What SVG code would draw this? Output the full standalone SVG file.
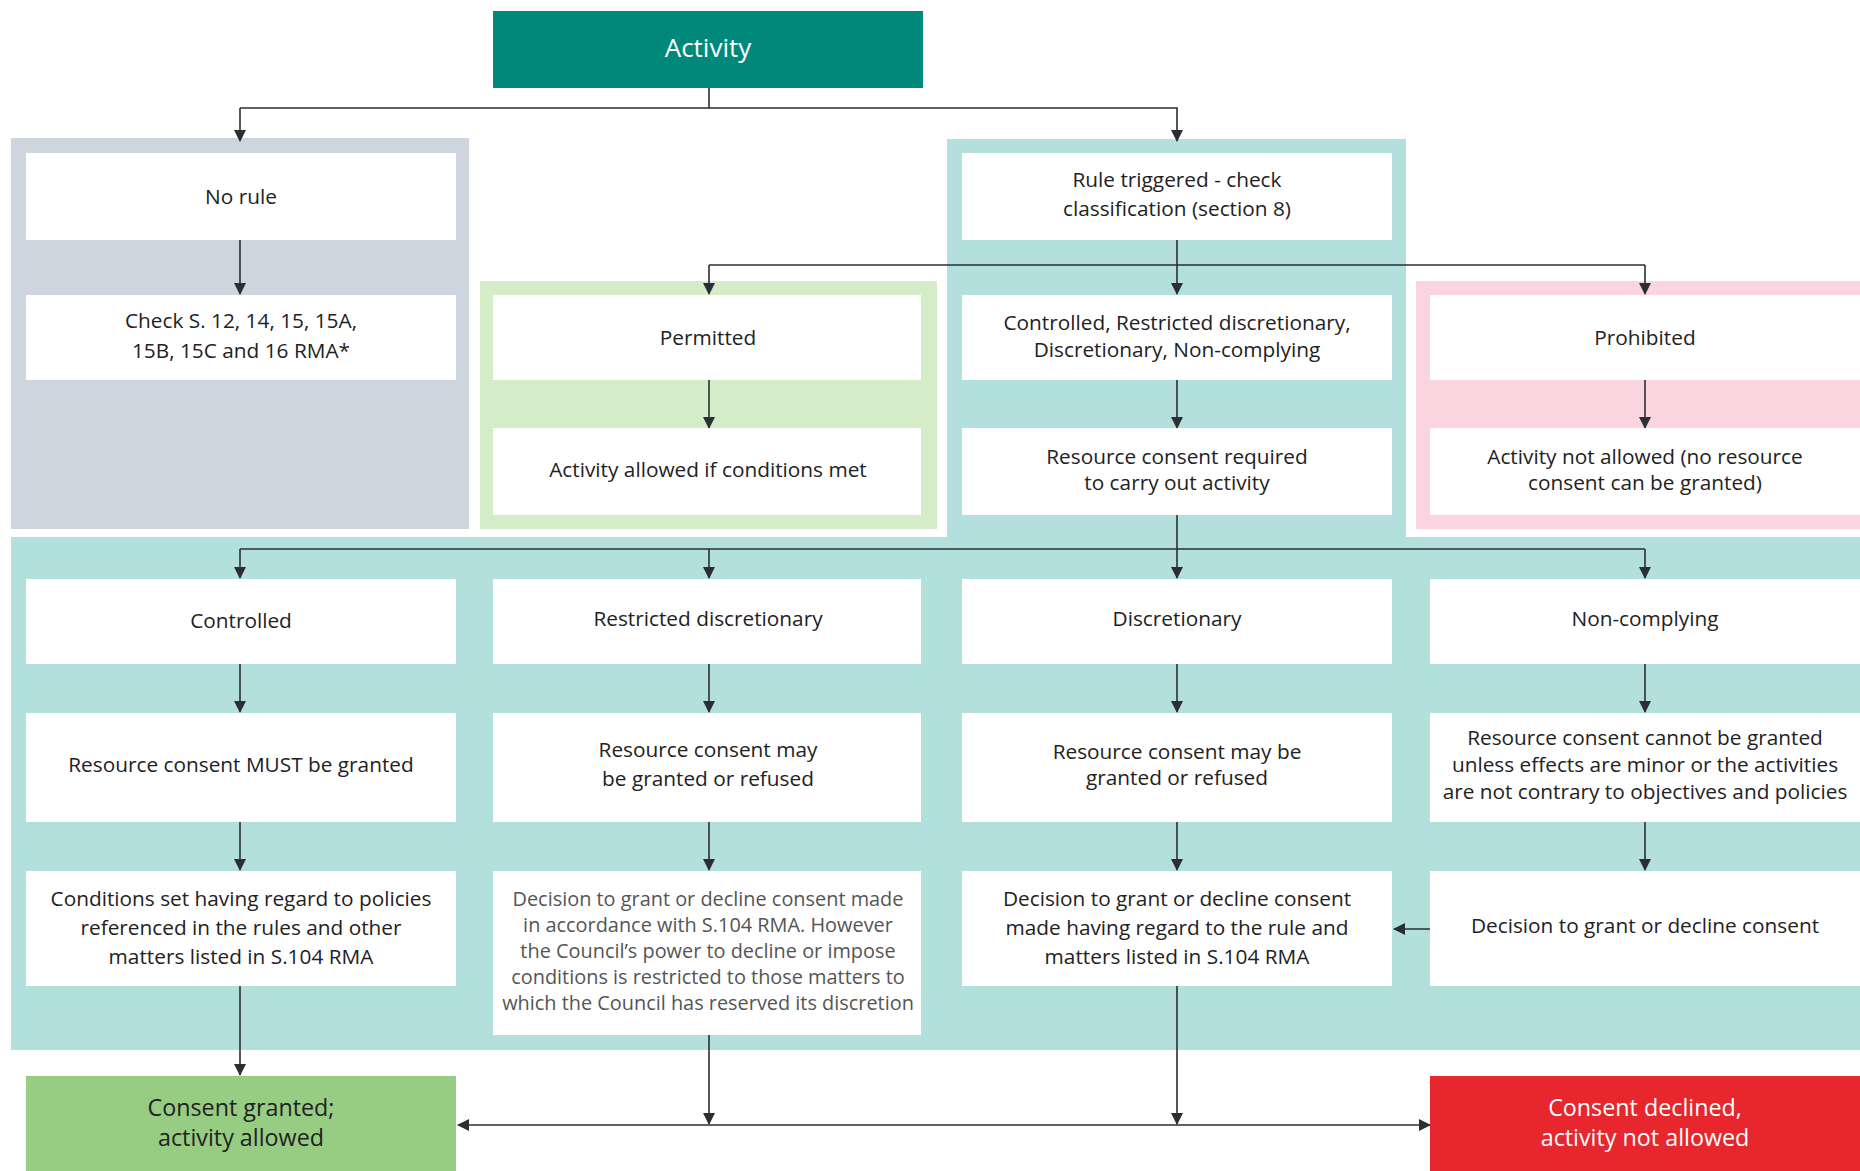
<svg xmlns="http://www.w3.org/2000/svg" width="1860" height="1171" viewBox="0 0 1860 1171">
<defs>
<marker id="ah" viewBox="0 0 12 12" refX="11" refY="6" markerWidth="12" markerHeight="12" markerUnits="userSpaceOnUse" orient="auto">
<path d="M0,0 L12,6 L0,12 z" fill="#2b2f33"/>
</marker>
<style>
.box{fill:#ffffff}
.t{font-family:"Open Sans","Noto Sans",sans-serif;font-size:20.8px;fill:#222;text-anchor:middle}
.g{fill:#555;font-size:19.9px}
.w{fill:#ffffff}
.big{font-size:23.3px}
.act{font-size:26px}
.c{fill:none;stroke:#2b2f33;stroke-width:1.6}
.ca{fill:none;stroke:#2b2f33;stroke-width:1.6;marker-end:url(#ah)}
</style>
</defs>
<rect width="1860" height="1171" fill="#ffffff"/>
<g id="panels">
<rect x="11" y="138" width="458" height="391" fill="#cdd6de"/>
<rect x="480" y="281" width="457" height="248" fill="#d5ecc9"/>
<rect x="947" y="139" width="459" height="400" fill="#b3e0dd"/>
<rect x="1416" y="281" width="444" height="248" fill="#fad4df"/>
<rect x="11" y="537" width="1849" height="513" fill="#b3e0dd"/>
</g>
<g id="connectors">
<path class="c" d="M709,88 V108 H240"/>
<path class="ca" d="M240,108 V141"/>
<path class="ca" d="M709,108 H1177 V141"/>
<path class="ca" d="M240,240 V294"/>
<path class="ca" d="M1177,240 V294"/>
<path class="c" d="M709,265 H1645"/>
<path class="ca" d="M709,265 V294"/>
<path class="ca" d="M1645,265 V294"/>
<path class="ca" d="M709,380 V428"/>
<path class="ca" d="M1177,380 V428"/>
<path class="ca" d="M1645,380 V428"/>
<path class="c" d="M1177,515 V549"/>
<path class="c" d="M240,549 H1645"/>
<path class="ca" d="M240,549 V578"/>
<path class="ca" d="M709,549 V578"/>
<path class="ca" d="M1177,549 V578"/>
<path class="ca" d="M1645,549 V578"/>
<path class="ca" d="M240,664 V712"/>
<path class="ca" d="M709,664 V712"/>
<path class="ca" d="M1177,664 V712"/>
<path class="ca" d="M1645,664 V712"/>
<path class="ca" d="M240,822 V870"/>
<path class="ca" d="M709,822 V870"/>
<path class="ca" d="M1177,822 V870"/>
<path class="ca" d="M1645,822 V870"/>
<path class="ca" d="M1430,929 H1394"/>
<path class="ca" d="M240,986 V1075"/>
<path class="ca" d="M709,1035 V1124"/>
<path class="ca" d="M1177,986 V1124"/>
<path class="ca" d="M940,1125 H458"/>
<path class="ca" d="M940,1125 H1430"/>
</g>
<g id="activity">
<rect x="493" y="11" width="430" height="77" fill="#00897b"/>
<text class="t w act" x="708" y="57">Activity</text>
</g>
<g id="no-rule">
<rect class="box" x="26" y="153" width="430" height="87"/>
<text class="t" x="241" y="204">No rule</text>
</g>
<g id="check">
<rect class="box" x="26" y="295" width="430" height="85"/>
<text class="t" x="241" y="328">Check S. 12, 14, 15, 15A,</text>
<text class="t" x="241" y="358">15B, 15C and 16 RMA*</text>
</g>
<g id="rule-triggered">
<rect class="box" x="962" y="153" width="430" height="87"/>
<text class="t" x="1177" y="187">Rule triggered - check</text>
<text class="t" x="1177" y="216">classification (section 8)</text>
</g>
<g id="permitted">
<rect class="box" x="493" y="295" width="428" height="85"/>
<text class="t" x="708" y="345">Permitted</text>
</g>
<g id="activity-allowed">
<rect class="box" x="493" y="428" width="428" height="87"/>
<text class="t" x="708" y="477">Activity allowed if conditions met</text>
</g>
<g id="classes">
<rect class="box" x="962" y="295" width="430" height="85"/>
<text class="t" x="1177" y="330">Controlled, Restricted discretionary,</text>
<text class="t" x="1177" y="357">Discretionary, Non-complying</text>
</g>
<g id="consent-required">
<rect class="box" x="962" y="428" width="430" height="87"/>
<text class="t" x="1177" y="464">Resource consent required</text>
<text class="t" x="1177" y="490">to carry out activity</text>
</g>
<g id="prohibited">
<rect class="box" x="1430" y="295" width="430" height="85"/>
<text class="t" x="1645" y="345">Prohibited</text>
</g>
<g id="not-allowed">
<rect class="box" x="1430" y="428" width="430" height="87"/>
<text class="t" x="1645" y="464">Activity not allowed (no resource</text>
<text class="t" x="1645" y="490">consent can be granted)</text>
</g>
<g id="controlled">
<rect class="box" x="26" y="579" width="430" height="85"/>
<text class="t" x="241" y="628">Controlled</text>
</g>
<g id="restricted">
<rect class="box" x="493" y="579" width="428" height="85"/>
<text class="t" x="708" y="626">Restricted discretionary</text>
</g>
<g id="discretionary">
<rect class="box" x="962" y="579" width="430" height="85"/>
<text class="t" x="1177" y="626">Discretionary</text>
</g>
<g id="non-complying">
<rect class="box" x="1430" y="579" width="430" height="85"/>
<text class="t" x="1645" y="626">Non-complying</text>
</g>
<g id="must-grant">
<rect class="box" x="26" y="713" width="430" height="109"/>
<text class="t" x="241" y="772">Resource consent MUST be granted</text>
</g>
<g id="may-grant-rd">
<rect class="box" x="493" y="713" width="428" height="109"/>
<text class="t" x="708" y="757">Resource consent may</text>
<text class="t" x="708" y="786">be granted or refused</text>
</g>
<g id="may-grant-d">
<rect class="box" x="962" y="713" width="430" height="109"/>
<text class="t" x="1177" y="759">Resource consent may be</text>
<text class="t" x="1177" y="785">granted or refused</text>
</g>
<g id="cannot-grant">
<rect class="box" x="1430" y="713" width="430" height="109"/>
<text class="t" x="1645" y="745">Resource consent cannot be granted</text>
<text class="t" x="1645" y="772">unless effects are minor or the activities</text>
<text class="t" x="1645" y="799">are not contrary to objectives and policies</text>
</g>
<g id="conditions-set">
<rect class="box" x="26" y="871" width="430" height="115"/>
<text class="t" x="241" y="906">Conditions set having regard to policies</text>
<text class="t" x="241" y="935">referenced in the rules and other</text>
<text class="t" x="241" y="964">matters listed in S.104 RMA</text>
</g>
<g id="decision-rd">
<rect class="box" x="493" y="871" width="428" height="164"/>
<text class="t g" x="708" y="906">Decision to grant or decline consent made</text>
<text class="t g" x="708" y="932">in accordance with S.104 RMA. However</text>
<text class="t g" x="708" y="958">the Council’s power to decline or impose</text>
<text class="t g" x="708" y="984">conditions is restricted to those matters to</text>
<text class="t g" x="708" y="1010">which the Council has reserved its discretion</text>
</g>
<g id="decision-d">
<rect class="box" x="962" y="871" width="430" height="115"/>
<text class="t" x="1177" y="906">Decision to grant or decline consent</text>
<text class="t" x="1177" y="935">made having regard to the rule and</text>
<text class="t" x="1177" y="964">matters listed in S.104 RMA</text>
</g>
<g id="decision-nc">
<rect class="box" x="1430" y="871" width="430" height="115"/>
<text class="t" x="1645" y="933">Decision to grant or decline consent</text>
</g>
<g id="granted">
<rect x="26" y="1076" width="430" height="95" fill="#96cd83"/>
<text class="t big" x="241" y="1116">Consent granted;</text>
<text class="t big" x="241" y="1146">activity allowed</text>
</g>
<g id="declined">
<rect x="1430" y="1076" width="430" height="95" fill="#e7262d"/>
<text class="t w big" x="1645" y="1116">Consent declined,</text>
<text class="t w big" x="1645" y="1146">activity not allowed</text>
</g>
</svg>
